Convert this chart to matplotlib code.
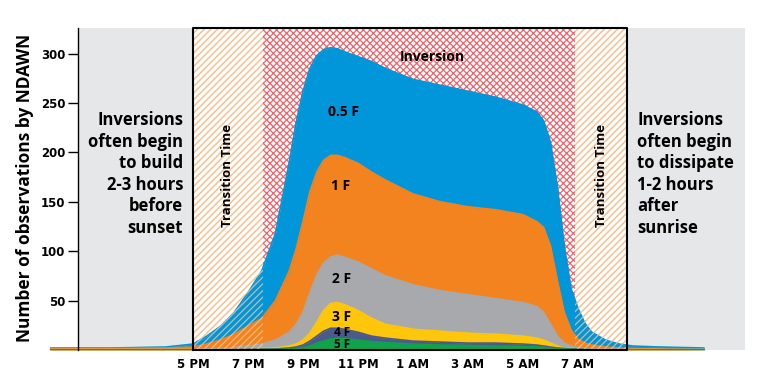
import numpy as np
import matplotlib
matplotlib.use("Agg")
import matplotlib.pyplot as plt

# hours after noon (5 = 5 PM, 19 = 7 AM)
hours = [-0.2, 2, 4, 5, 5.5, 6, 6.5, 7, 7.5, 8, 8.5, 8.75, 9, 9.25, 9.5, 9.75, 10,
         10.25, 10.5, 11, 11.5, 12, 13, 14, 15, 16, 17, 17.5, 17.75, 18,
         18.25, 18.5, 18.75, 19, 19.25, 19.5, 20, 20.5, 21, 22, 23.6]

obs_05F = [2, 2, 3, 6, 14, 24, 38, 58, 80, 118, 190, 230, 262, 285, 298, 304, 306,
           305, 302, 297, 292, 285, 274, 268, 262, 256, 248, 241, 232, 210,
           165, 105, 62, 42, 27, 18, 10, 6, 4, 3, 2]
obs_1F = [1, 1.5, 2, 3, 6, 10, 16, 24, 32, 50, 80, 102, 130, 160, 180, 192, 197,
          197, 195, 189, 180, 172, 158, 150, 145, 142, 137, 130, 124, 105,
          70, 38, 20, 11, 7, 5, 3, 2, 1.5, 1, 0]
obs_2F = [0.5, 0.5, 0.5, 0.5, 1, 1.5, 2.5, 4, 6, 10, 18, 26, 38, 58, 76, 88, 94,
          96, 94, 89, 82, 75, 66, 60, 56, 52, 48, 44, 38, 26,
          14, 7, 4, 2.5, 1.5, 1, 0.5, 0.5, 0.5, 0.5, 0.5]
obs_3F = [0.3, 0.3, 0.3, 0.3, 0.4, 0.5, 0.8, 1, 1.5, 2, 4, 6, 10, 17, 28, 40, 47,
          48, 46, 40, 32, 26, 21, 19, 17, 16, 14, 12, 10, 7,
          4, 2, 1.5, 1, 0.5, 0.3, 0.3, 0.3, 0.3, 0.3, 0.3]
obs_4F = [0, 0, 0, 0, 0.2, 0.3, 0.5, 0.7, 0.8, 1, 2, 3, 5, 9, 14, 19, 22,
          22, 21, 18, 14, 12, 9, 8, 7, 7, 6, 5, 4, 3,
          2, 1.5, 1, 1, 0.5, 0.3, 0, 0, 0, 0, 0]
obs_5F = [0, 0, 0, 0, 0, 0, 0.2, 0.3, 0.5, 0.7, 1, 1.5, 2, 4, 7, 9, 11,
          12, 11.5, 10, 8.5, 7.5, 6, 5, 4.5, 4, 3.5, 3, 2.5, 2,
          1.5, 1, 0.7, 0.5, 0.3, 0, 0, 0, 0, 0, 0]

series = [("0.5 F", obs_05F, "#0096d9"),
          ("1 F", obs_1F, "#f3831f"),
          ("2 F", obs_2F, "#a7a9ac"),
          ("3 F", obs_3F, "#ffc60b"),
          ("4 F", obs_4F, "#4a5a8a"),
          ("5 F", obs_5F, "#10a34c")]
label_pos = [(10.49, 241), (10.38, 166), (10.42, 72), (10.42, 33), (10.42, 18), (10.42, 5.5)]
label_size = [10, 10, 10, 10, 8.5, 8.5]

tick_hours = [5, 7, 9, 11, 13, 15, 17, 19]
tick_names = ["5 PM", "7 PM", "9 PM", "11 PM", "1 AM", "3 AM", "5 AM", "7 AM"]

plt.rcParams['font.family'] = ['Open Sans', 'DejaVu Sans']
plt.rcParams['hatch.linewidth'] = 0.9

fig = plt.figure(figsize=(7.68, 3.76), dpi=100)
ax = fig.add_axes([48 / 768, 26 / 376, 697 / 768, 322 / 376])
ax.set_xlim(-0.27, 25.07)
ax.set_ylim(0, 326)

spine_x = 0.82
box_l, box_r = 5, 20.78
inv_l, inv_r = 7.55, 18.9

# grey side panels
ax.axvspan(spine_x, 25.07, color="#e6e7e8", lw=0, zorder=0)
ax.axvspan(box_l, box_r, color="white", lw=0, zorder=0.5)
# inversion crosshatch
ax.axvspan(inv_l, inv_r, facecolor="none", edgecolor="#f0646c", hatch="xxxxx",
           lw=0, zorder=1)
# transition time hatch (under data)
for a, b in [(box_l, inv_l), (inv_r, box_r)]:
    ax.axvspan(a, b, facecolor="none", edgecolor="#f9b47a", hatch="/////",
               lw=0, zorder=1)

x = np.array(hours)
for i, (name, vals, col) in enumerate(series):
    ax.fill_between(x, 0, vals, color=col, lw=0, zorder=2 + i * 0.1)
    ax.plot(x, vals, color=col, lw=1.2, zorder=2 + i * 0.1, solid_capstyle="butt")
    lx, ly = label_pos[i]
    ax.text(lx, ly, name, ha="center", va="center", fontsize=label_size[i],
            fontweight="bold", color="black", zorder=5)

# transition hatch on top of data
for a, b in [(box_l, inv_l), (inv_r, box_r)]:
    ax.axvspan(a, b, facecolor="none", edgecolor="#fcc89a", hatch="/////",
               lw=0, zorder=3, alpha=0.75)

# black frame
ax.plot([box_l, box_l, box_r, box_r, box_l], [0, 326, 326, 0, 0],
        color="black", lw=1.5, zorder=4, clip_on=False)

ax.text(13.7, 297, "Inversion", ha="center", va="center", fontsize=10,
        fontweight="bold", zorder=5)
ax.text(6.27, 177, "Transition Time", rotation=90, ha="center", va="center",
        fontsize=9.5, fontweight="bold", zorder=5)
ax.text(19.87, 177, "Transition Time", rotation=90, ha="center", va="center",
        fontsize=9.5, fontweight="bold", zorder=5)
ax.text(4.64, 178, "Inversions\noften begin\nto build\n2-3 hours\nbefore\nsunset",
        ha="right", va="center", fontsize=12, fontweight="bold",
        linespacing=1.25, zorder=5)
ax.text(21.15, 178, "Inversions\noften begin\nto dissipate\n1-2 hours\nafter\nsunrise",
        ha="left", va="center", fontsize=12, fontweight="bold",
        linespacing=1.25, zorder=5)

ax.spines[['top', 'right', 'bottom']].set_visible(False)
ax.spines['left'].set_position(('data', spine_x))
ax.spines['left'].set_linewidth(1)
ax.spines['left'].set_zorder(4)
ax.set_yticks([50, 100, 150, 200, 250, 300])
ax.set_yticklabels(["50", "100", "150", "200", "250", "300"],
                   fontsize=8.5, fontweight="bold", family="DejaVu Sans")
ax.tick_params(axis='y', length=7, width=1, pad=2)
ax.set_xticks(tick_hours)
ax.set_xticklabels(tick_names, fontsize=8.5, fontweight="bold", family="DejaVu Sans")
ax.tick_params(axis='x', length=0, pad=6)

fig.text(25 / 768, 1 - 188 / 376, "Number of observations by NDAWN", rotation=90,
         ha="center", va="center", fontsize=12.5, fontweight="bold")

fig.savefig("out.png", dpi=100)
